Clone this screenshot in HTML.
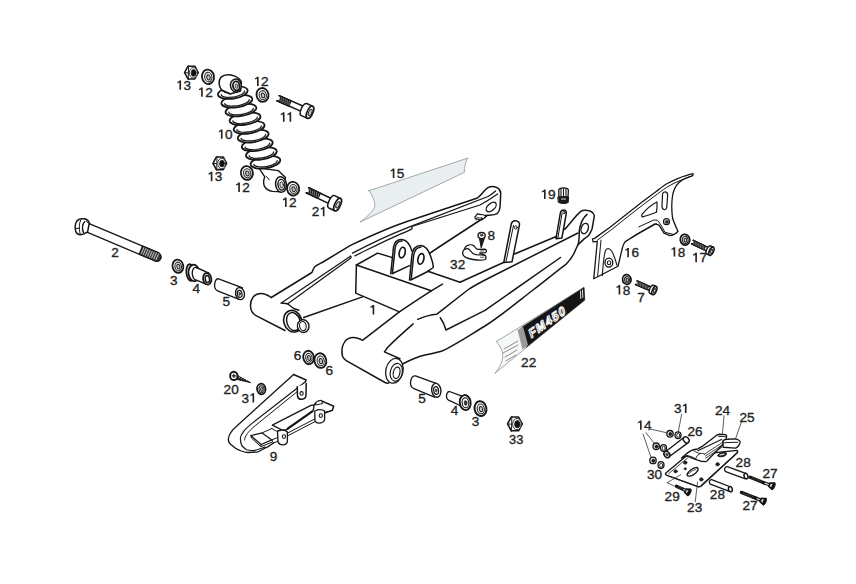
<!DOCTYPE html>
<html><head><meta charset="utf-8"><title>Swingarm parts diagram</title>
<style>
html,body{margin:0;padding:0;background:#ffffff;}
body{width:856px;height:584px;overflow:hidden;}
svg{display:block;}
text{font-family:"Liberation Sans",sans-serif;font-size:13.6px;fill:#242424;stroke:#242424;stroke-width:0.35px;}
</style></head><body>
<svg width="856" height="584" viewBox="0 0 856 584" stroke-linejoin="round" stroke-linecap="round">
<rect x="0" y="0" width="856" height="584" fill="#fff"/>
<path d="M369,190.7 L467.9,158.1 C465.5,162 464.3,167 464.3,172.4 L359.9,222.2 C368,216 373.5,211 374.6,206.5 C375.5,203 373,196 369,190.7 Z" fill="#e9eef0" stroke="#8e9494" stroke-width="0.8" />
<path d="M496.4,341.5 L584,287.4 L584.7,300.1 L494.8,373.4 Q510,356 496.4,341.5 Z" fill="#f6f7f7" stroke="#8a9296" stroke-width="0.8" />
<path d="M521.8,327.2 L584,287.4 L584.7,300.1 L526.6,347.1 Z" fill="#151515" stroke="#151515" stroke-width="0.6" />
<path d="M517.5,330 L523,326.6 L528,345 L522.5,349.5 Z" fill="#9a9a96" stroke="none" stroke-width="0" />
<text transform="translate(531 338.5) rotate(-35.5) skewX(-16)" style="font-family:'Liberation Sans',sans-serif;font-weight:bold;font-size:12px;fill:#1a1a1a;letter-spacing:1.4px;stroke:#fff;stroke-width:1.1px;stroke-linejoin:round">FM450</text>
<path d="M580.5,291 L580.8,298.5 M582.5,290 L582.8,297.5" fill="none" stroke="#fff" stroke-width="0.9" />
<path d="M504,349 L518,341 M503,353 L518,345 M505,357 L517,350 M506,361 L516,355" fill="none" stroke="#8c8c8c" stroke-width="1.0" />
<path d="M271.25,297.5 L311.9,272.5 C313,270 313.5,268 315,266.5 C317,264.8 320,263.6 323,262 L350,245.6 C365,238.5 385,229 407,221.5 L477.5,198 C481,195.5 484,190.5 487.5,187.8 C490.5,186.2 495,186 498.6,188.6 C500.5,190.5 501,193 500.6,195.5 L500,207.5 C499.6,210.5 498.6,212.3 497.1,213.6 C494.5,215 490,215.3 485.2,215.4" fill="none" stroke="#161616" stroke-width="1.5" />
<path d="M486.5,216 L437.5,248 L429.5,253.5" fill="none" stroke="#161616" stroke-width="1.5" />
<path d="M281.25,303.1 L350,256.4" fill="none" stroke="#161616" stroke-width="1.2" />
<path d="M352.5,253.1 C365,246.5 385,236.5 407,227.8 L488,196.5 C491,195 493,193.2 495.5,191" fill="none" stroke="#161616" stroke-width="1.3" />
<path d="M287.4,303.9 L349.5,259.0 Q352,257.4 350.6,256.0" fill="none" stroke="#161616" stroke-width="1.2" />
<path d="M355,255.8 C375,246 390,238 407,231.3 L411.9,228.9 L411.9,226.5 L480,205 Q490,199.5 497.5,194" fill="none" stroke="#161616" stroke-width="1.3" />
<path d="M271.25,297.5 C267,294.5 264,293.3 260,293.5 C254,294 250.5,299 250.5,305.5 C250.5,311 253,314 256,315.6 L285,330.5" fill="none" stroke="#161616" stroke-width="1.5" />
<path d="M281.25,303.1 L287.5,303.75 L293.75,308.5 L298.75,310.2" fill="none" stroke="#161616" stroke-width="1.5" />
<ellipse cx="491.2" cy="207.0" rx="6.0" ry="3.4" transform="rotate(-42 491.2 207.0)" fill="#fff" stroke="#161616" stroke-width="1.3" />
<path d="M475,217 L477.3,213.9 L483.9,215.1 L481.6,217.8 Z" fill="#fff" stroke="#161616" stroke-width="1.2" />
<path d="M475,217 L475.3,218.8 L481.8,220 L485.8,216.6 L483.9,215.1 M481.6,217.8 L481.8,220" fill="#fff" stroke="#161616" stroke-width="1.1" />
<path d="M476,220 L476.8,217.6 L483,218.4" fill="none" stroke="#161616" stroke-width="0.8" />
<ellipse cx="292.8" cy="321.2" rx="9.0" ry="11.0" transform="rotate(-18 292.8 321.2)" fill="#fff" stroke="#161616" stroke-width="1.6" />
<ellipse cx="293.4" cy="321.6" rx="6.6" ry="9.2" transform="rotate(-18 293.4 321.6)" fill="#fff" stroke="#161616" stroke-width="1.5" />
<path d="M294.8,313.3 L302.5,319.8" fill="none" stroke="#161616" stroke-width="1.2" />
<ellipse cx="303.2" cy="326.1" rx="5.8" ry="6.4" transform="rotate(-10 303.2 326.1)" fill="#fff" stroke="#161616" stroke-width="1.4" />
<ellipse cx="302.9" cy="326.1" rx="3.3" ry="4.6" transform="rotate(-10 302.9 326.1)" fill="#fff" stroke="#161616" stroke-width="1.1" />
<path d="M303.75,317.5 L362.5,296.9" fill="none" stroke="#161616" stroke-width="1.5" />
<path d="M356.4,265 L377.6,253.1 L392.5,257.6" fill="none" stroke="#161616" stroke-width="1.5" />
<path d="M356.4,265 L431.2,290.8" fill="none" stroke="#161616" stroke-width="1.5" />
<path d="M356.4,265 L355.75,293.1 L399.4,311.9" fill="none" stroke="#161616" stroke-width="1.5" />
<path d="M427.9,271.2 L460,282.3" fill="none" stroke="#161616" stroke-width="1.5" />
<path d="M390.75,273.75 L393.5,247 C394.5,241.5 398,239.2 402,239.4 C406.5,239.8 410,244 412,251.25" fill="#fff" stroke="#161616" stroke-width="1.5" />
<path d="M392.4,273.2 L395.2,247.5 C396,243.2 398.8,241 402,241" fill="none" stroke="#161616" stroke-width="1.5" />
<path d="M392,273.75 L409.5,265.6" fill="none" stroke="#161616" stroke-width="1.5" />
<ellipse cx="402.2" cy="252.6" rx="2.9" ry="5.4" transform="rotate(12 402.2 252.6)" fill="#fff" stroke="#161616" stroke-width="1.7" />
<path d="M409.5,280 L411.8,256 C412.6,249.5 416,245.6 420.75,245.6 C425.5,246 428.5,250.5 430.3,255.5 C432,260 433.5,264 433.25,267.5 L428,271.2" fill="#fff" stroke="#161616" stroke-width="1.5" />
<path d="M411.2,279.5 L413.5,256.5 C414.2,250.5 417,247.3 420.75,247.2" fill="none" stroke="#161616" stroke-width="1.5" />
<path d="M410.75,280 L428.25,271.25" fill="none" stroke="#161616" stroke-width="1.5" />
<ellipse cx="420.9" cy="258.9" rx="2.9" ry="5.4" transform="rotate(12 420.9 258.9)" fill="#fff" stroke="#161616" stroke-width="1.7" />
<path d="M429.5,253.5 L437.5,248" fill="none" stroke="#161616" stroke-width="1.5" />
<path d="M442.5,284.2 L431.2,290.8 C420,298 410,304.5 399.4,311.9 L362.5,340.3 C359,338.5 357,337.5 353.75,337.5 C349,337.5 346,339 344,343 C342,346.5 341.5,352 342.5,356.25 C343.5,358.5 344.5,359.6 346.25,360.6 L385,382.5 C386.5,383.2 387.5,383.3 388.75,383.1" fill="none" stroke="#161616" stroke-width="1.5" />
<ellipse cx="394.4" cy="370.8" rx="8.6" ry="12.5" transform="rotate(12 394.4 370.8)" fill="#fff" stroke="#161616" stroke-width="1.3" />
<ellipse cx="396.3" cy="372.3" rx="6.0" ry="9.0" transform="rotate(12 396.3 372.3)" fill="#fff" stroke="#161616" stroke-width="1.2" />
<ellipse cx="396.6" cy="372.8" rx="3.3" ry="5.8" transform="rotate(12 396.6 372.8)" fill="#fff" stroke="#161616" stroke-width="1.2" />
<path d="M413.2,323.9 C405,331 395,340 388,347 L384.4,351.9 L400,358.75" fill="none" stroke="#161616" stroke-width="1.5" />
<path d="M417.7,319.4 Q428,315 436.6,314.3 L467.7,290 C475,285 482,281.5 490,277.5 L578,233" fill="none" stroke="#161616" stroke-width="1.5" />
<path d="M440.3,317.8 Q444,323 446,330 C460,323 472,317 485,310.3 L560.5,257.5" fill="none" stroke="#161616" stroke-width="1.5" />
<path d="M403.1,363.75 C412,359 418,356.5 425,355 C432,353.5 437,352.5 442,351 C455,345 470,335 485,326 C500,316.5 515,304 533,290 C545,281 558,270 566.5,263.8 C571,259 574,254 575.5,250 L578,244.5" fill="none" stroke="#161616" stroke-width="1.5" />
<path d="M460,282.3 L504,262.3" fill="none" stroke="#161616" stroke-width="1.5" />
<path d="M514.5,254 L556.2,236.5" fill="none" stroke="#161616" stroke-width="1.5" />
<path d="M564.6,229.4 C570,224 575,216 580.8,211.3 C582.5,210.2 584.5,210 586,210.3 C589,210.6 591.8,211.6 593.2,213.4 C594.3,214.8 594.4,215.8 594.2,216.6 L592.1,228.8 C591,231.5 590,233.5 589,235 C587,237 585.5,238 583.9,239.1 L578.3,244.4" fill="none" stroke="#161616" stroke-width="1.5" />
<path d="M587,214.4 C583.5,217.5 581,222 579.8,227.7 C579.3,230 579.2,232 579.3,233.9 C579.2,237.5 578.8,241 578.3,244.4" fill="none" stroke="#161616" stroke-width="1.5" />
<ellipse cx="584.7" cy="228.5" rx="3.5" ry="5.3" transform="rotate(20 584.7 228.5)" fill="#fff" stroke="#161616" stroke-width="1.4" />
<path d="M503.8,262.5 L511.3,223.8 C512,221.5 514,220.6 515.7,220.8 C518,221 519.8,222.5 519.5,224.6 L512,261.8 Z" fill="#fff" stroke="#161616" stroke-width="1.5" />
<path d="M506,261.8 L513.5,225.3" fill="none" stroke="#161616" stroke-width="1.0" />
<ellipse cx="515.8" cy="227.5" rx="1.4" ry="1.6" fill="#fff" stroke="#161616" stroke-width="1.0" />
<path d="M556,238.7 L560.4,212.7 C561,210.8 562.5,210 564.1,210.1 C565.8,210.3 566.6,211.6 566.3,213.4 L561.9,238 Z" fill="#fff" stroke="#161616" stroke-width="1.5" />
<path d="M557.8,238.5 L562,213.5" fill="none" stroke="#161616" stroke-width="1.0" />
<ellipse cx="564" cy="212.5" rx="1.2" ry="1.3" fill="#fff" stroke="#161616" stroke-width="0.9" />
<path d="M594.6,238.4 L610,227.2 L626.2,214.4 L642.4,201.8 L656.2,191.4 C661,187.8 664,185.4 667.8,183.3 C671,181.5 673.5,180.2 677,178.8 C683,176.4 688,174.6 693,173.6 C693.2,174.6 692.9,175.4 692.3,175.8 C686,177.6 681.5,180 678.75,182.8 C675,186.5 673.3,191 672.5,196 C671.5,203 671.5,210 672.5,217.5 C673.5,222 675.5,226 678,231.25 C676,233.5 673,235.5 670,235.6 L664,233.1 L659,225.2 L655,223.9 L637.5,233.75 L625,241.9 C623.5,244 622.8,246 622.5,247.5 L618,266.25 L593.75,278.75 L597.3,241.4 L593.1,241.9 L592.5,238.9 Z" fill="#fff" stroke="#161616" stroke-width="1.3" />
<path d="M597.4,240.2 L611.5,229.6 L627.6,216.8 L643.8,204.2 L657.6,193.8 C662,190.4 665.5,188 669,186 C672.5,184 675.5,182.4 679,181 C684,179 688,177.2 692.3,175.8" fill="none" stroke="#161616" stroke-width="1.0" />
<path d="M601,240.2 L597.6,276.3" fill="none" stroke="#161616" stroke-width="1.0" />
<path d="M602.3,275.6 C603,265 603.8,255 605.6,250.2 C607.5,247.6 610.3,248.5 611.8,251.2 C613.8,255 615.6,260 617,265.3" fill="none" stroke="#161616" stroke-width="1.1" />
<ellipse cx="608.9" cy="262.6" rx="3.9" ry="4.5" fill="#fff" stroke="#161616" stroke-width="1.3" />
<ellipse cx="609.1" cy="262.8" rx="1.7" ry="2.0" fill="#fff" stroke="#161616" stroke-width="1.1" />
<path d="M638.75,226.9 L653.75,220 L657.5,220.3 L660.3,224 L665,232.3 L672.5,234.2" fill="none" stroke="#161616" stroke-width="1.0" />
<path d="M631.25,238 L656.25,223.75" fill="none" stroke="#161616" stroke-width="1.0" />
<path d="M662.5,194.5 C662.8,192.3 664.5,191.6 665.9,192.1 C667.3,192.6 667.8,194 667.6,196 L666.8,207 C666.6,209 665.3,209.8 664,209.5 C662.6,209.2 662,208 662,206 Z" fill="none" stroke="#161616" stroke-width="1.2" />
<path d="M656.9,202 C657.3,205 657,209 656.4,212.3 C652,214 647,215.8 642.7,216.9 C641.7,216.7 641.4,215.5 642,214.4 C646,209.5 651,205 656.9,202 Z" fill="none" stroke="#161616" stroke-width="1.2" />
<ellipse cx="666.5" cy="221.7" rx="3.0" ry="3.0" fill="#fff" stroke="#161616" stroke-width="1.2" />
<ellipse cx="666.7" cy="221.9" rx="1.6" ry="1.6" fill="#333" stroke="#161616" stroke-width="0.5" />
<ellipse cx="685.0" cy="239.7" rx="4.7" ry="5.4" transform="rotate(-10 685.0 239.7)" fill="#fff" stroke="#161616" stroke-width="1.8" />
<ellipse cx="685.3" cy="240.0" rx="2.82" ry="3.5640000000000005" transform="rotate(-10 685.3 240.0)" fill="#f2f2f2" stroke="#2a2a2a" stroke-width="1.1" />
<ellipse cx="685.5" cy="240.2" rx="1.3160000000000003" ry="1.944" transform="rotate(-10 685.5 240.2)" fill="#c4c4c4" stroke="#222" stroke-width="1.0" />
<path d="M691.62,243.77 L707.87,251.61 L709.52,248.19 L693.27,240.35 A1.90,1.90 0 0 1 691.62,243.77 Z" fill="#fff" stroke="#161616" stroke-width="1.5"/>
<path d="M691.62,243.77 L703.69,249.59 L705.34,246.17 L693.27,240.35 A1.90,1.90 0 0 1 691.62,243.77 Z" fill="#1e1e1e" stroke="#161616" stroke-width="1.5"/>
<path d="M693.48,244.04 L693.56,241.12 M695.20,244.87 L695.27,241.95 M696.91,245.69 L696.98,242.77 M698.62,246.52 L698.69,243.60 M700.33,247.34 L700.40,244.42 M702.04,248.17 L702.12,245.25 M703.75,248.99 L703.83,246.07" stroke="#9a9a9a" stroke-width="0.7" fill="none"/>
<path d="M706.79,253.86 L709.49,255.16 L713.31,247.24 L710.61,245.93 A2.02,4.40 25.7 0 0 706.79,253.86 Z" fill="#fff" stroke="#161616" stroke-width="1.5" stroke-linejoin="round"/>
<ellipse cx="711.40" cy="251.20" rx="2.02" ry="4.40" transform="rotate(25.7 711.40 251.20)" fill="#fff" stroke="#161616" stroke-width="1.6"/>
<ellipse cx="711.67" cy="251.33" rx="1.11" ry="2.20" transform="rotate(25.7 711.40 251.20)" fill="#d0d0d0" stroke="#222" stroke-width="1.0"/>
<ellipse cx="626.8" cy="279.5" rx="4.2" ry="4.9" transform="rotate(-10 626.8 279.5)" fill="#fff" stroke="#161616" stroke-width="1.8" />
<ellipse cx="627.0999999999999" cy="279.8" rx="2.52" ry="3.2340000000000004" transform="rotate(-10 627.0999999999999 279.8)" fill="#f2f2f2" stroke="#2a2a2a" stroke-width="1.1" />
<ellipse cx="627.3" cy="280.0" rx="1.1760000000000002" ry="1.764" transform="rotate(-10 627.3 280.0)" fill="#c4c4c4" stroke="#222" stroke-width="1.0" />
<path d="M635.60,284.48 L650.89,291.06 L652.39,287.57 L637.10,280.99 A1.90,1.90 0 0 1 635.60,284.48 Z" fill="#fff" stroke="#161616" stroke-width="1.5"/>
<path d="M635.60,284.48 L646.99,289.38 L648.49,285.89 L637.10,280.99 A1.90,1.90 0 0 1 635.60,284.48 Z" fill="#1e1e1e" stroke="#161616" stroke-width="1.5"/>
<path d="M637.48,284.67 L637.43,281.75 M639.07,285.35 L639.02,282.44 M640.66,286.04 L640.61,283.12 M642.26,286.72 L642.20,283.81 M643.85,287.41 L643.80,284.49 M645.44,288.09 L645.39,285.18 M647.03,288.78 L646.98,285.86" stroke="#9a9a9a" stroke-width="0.7" fill="none"/>
<path d="M649.91,293.36 L652.66,294.54 L656.14,286.46 L653.38,285.27 A2.02,4.40 23.3 0 0 649.91,293.36 Z" fill="#fff" stroke="#161616" stroke-width="1.5" stroke-linejoin="round"/>
<ellipse cx="654.40" cy="290.50" rx="2.02" ry="4.40" transform="rotate(23.3 654.40 290.50)" fill="#fff" stroke="#161616" stroke-width="1.6"/>
<ellipse cx="654.68" cy="290.62" rx="1.11" ry="2.20" transform="rotate(23.3 654.40 290.50)" fill="#d0d0d0" stroke="#222" stroke-width="1.0"/>
<ellipse cx="262.5" cy="94.9" rx="6.0" ry="6.9" transform="rotate(-10 262.5 94.9)" fill="#fff" stroke="#161616" stroke-width="1.8" />
<ellipse cx="262.8" cy="95.2" rx="3.5999999999999996" ry="4.554" transform="rotate(-10 262.8 95.2)" fill="#f2f2f2" stroke="#2a2a2a" stroke-width="1.1" />
<ellipse cx="263.0" cy="95.4" rx="1.6800000000000002" ry="2.484" transform="rotate(-10 263.0 95.4)" fill="#c4c4c4" stroke="#222" stroke-width="1.0" />
<path d="M276.93,100.81 L302.92,112.16 L305.16,107.03 L279.17,95.67 A2.80,2.80 0 0 1 276.93,100.81 Z" fill="#fff" stroke="#161616" stroke-width="1.5"/>
<path d="M276.93,100.81 L288.75,105.97 L290.99,100.84 L279.17,95.67 A2.80,2.80 0 0 1 276.93,100.81 Z" fill="#1e1e1e" stroke="#161616" stroke-width="1.5"/>
<path d="M278.91,100.76 L279.38,96.68 M280.91,101.63 L281.38,97.56 M282.91,102.50 L283.38,98.43 M284.91,103.38 L285.38,99.30 M286.91,104.25 L287.37,100.18 M288.90,105.12 L289.37,101.05" stroke="#9a9a9a" stroke-width="0.7" fill="none"/>
<path d="M301.40,115.65 L307.36,118.25 L312.64,106.15 L306.69,103.55 A2.88,6.60 23.6 0 0 301.40,115.65 Z" fill="#fff" stroke="#161616" stroke-width="1.5" stroke-linejoin="round"/>
<ellipse cx="310.00" cy="112.20" rx="2.88" ry="6.60" transform="rotate(23.6 310.00 112.20)" fill="#fff" stroke="#161616" stroke-width="1.6"/>
<ellipse cx="310.27" cy="112.32" rx="1.58" ry="3.30" transform="rotate(23.6 310.00 112.20)" fill="#d0d0d0" stroke="#222" stroke-width="1.0"/>
<ellipse cx="293.1" cy="188.7" rx="6.0" ry="6.9" transform="rotate(-10 293.1 188.7)" fill="#fff" stroke="#161616" stroke-width="1.8" />
<ellipse cx="293.40000000000003" cy="189.0" rx="3.5999999999999996" ry="4.554" transform="rotate(-10 293.40000000000003 189.0)" fill="#f2f2f2" stroke="#2a2a2a" stroke-width="1.1" />
<ellipse cx="293.6" cy="189.2" rx="1.6800000000000002" ry="2.484" transform="rotate(-10 293.6 189.2)" fill="#c4c4c4" stroke="#222" stroke-width="1.0" />
<path d="M306.24,192.79 L330.53,204.34 L332.93,199.28 L308.64,187.73 A2.80,2.80 0 0 1 306.24,192.79 Z" fill="#fff" stroke="#161616" stroke-width="1.5"/>
<path d="M306.24,192.79 L317.89,198.33 L320.29,193.27 L308.64,187.73 A2.80,2.80 0 0 1 306.24,192.79 Z" fill="#1e1e1e" stroke="#161616" stroke-width="1.5"/>
<path d="M308.23,192.80 L308.83,188.75 M310.19,193.74 L310.79,189.68 M312.16,194.67 L312.76,190.62 M314.13,195.61 L314.73,191.55 M316.10,196.55 L316.70,192.49 M318.07,197.48 L318.67,193.43" stroke="#9a9a9a" stroke-width="0.7" fill="none"/>
<path d="M328.81,207.95 L334.68,210.74 L340.52,198.46 L334.65,195.67 A2.88,6.80 25.4 0 0 328.81,207.95 Z" fill="#fff" stroke="#161616" stroke-width="1.5" stroke-linejoin="round"/>
<ellipse cx="337.60" cy="204.60" rx="2.88" ry="6.80" transform="rotate(25.4 337.60 204.60)" fill="#fff" stroke="#161616" stroke-width="1.6"/>
<ellipse cx="337.87" cy="204.73" rx="1.58" ry="3.40" transform="rotate(25.4 337.60 204.60)" fill="#d0d0d0" stroke="#222" stroke-width="1.0"/>
<polygon points="198.22,72.60 194.81,78.96 187.99,78.96 184.58,72.60 187.99,66.24 194.81,66.24" fill="#fff" stroke="#161616" stroke-width="1.6" stroke-linejoin="round"/>
<path d="M188.59,65.62 L188.29,79.58 M185.08,72.60 L187.99,72.90" stroke="#222" stroke-width="1.0" fill="none"/>
<ellipse cx="193.35" cy="72.8" rx="4.03" ry="5.2" fill="#fff" stroke="#333" stroke-width="1.0" />
<ellipse cx="193.61" cy="72.89999999999999" rx="2.47" ry="3.38" fill="#111" stroke="#111" stroke-width="0.6" />
<ellipse cx="208.0" cy="76.8" rx="6.0" ry="7.3" transform="rotate(-10 208.0 76.8)" fill="#fff" stroke="#161616" stroke-width="1.8" />
<ellipse cx="208.3" cy="77.1" rx="3.5999999999999996" ry="4.8180000000000005" transform="rotate(-10 208.3 77.1)" fill="#f2f2f2" stroke="#2a2a2a" stroke-width="1.1" />
<ellipse cx="208.5" cy="77.3" rx="1.6800000000000002" ry="2.6279999999999997" transform="rotate(-10 208.5 77.3)" fill="#c4c4c4" stroke="#222" stroke-width="1.0" />
<polygon points="226.62,163.30 223.21,169.66 216.39,169.66 212.98,163.30 216.39,156.94 223.21,156.94" fill="#fff" stroke="#161616" stroke-width="1.6" stroke-linejoin="round"/>
<path d="M216.99,156.32 L216.69,170.28 M213.48,163.30 L216.39,163.60" stroke="#222" stroke-width="1.0" fill="none"/>
<ellipse cx="221.75" cy="163.5" rx="4.03" ry="5.2" fill="#fff" stroke="#333" stroke-width="1.0" />
<ellipse cx="222.01000000000002" cy="163.60000000000002" rx="2.47" ry="3.38" fill="#111" stroke="#111" stroke-width="0.6" />
<ellipse cx="246.9" cy="173.0" rx="6.0" ry="6.9" transform="rotate(-10 246.9 173.0)" fill="#fff" stroke="#161616" stroke-width="1.8" />
<ellipse cx="247.20000000000002" cy="173.3" rx="3.5999999999999996" ry="4.554" transform="rotate(-10 247.20000000000002 173.3)" fill="#f2f2f2" stroke="#2a2a2a" stroke-width="1.1" />
<ellipse cx="247.4" cy="173.5" rx="1.6800000000000002" ry="2.484" transform="rotate(-10 247.4 173.5)" fill="#c4c4c4" stroke="#222" stroke-width="1.0" />
<ellipse cx="308.6" cy="357.5" rx="5.3" ry="6.8" transform="rotate(-10 308.6 357.5)" fill="#fff" stroke="#161616" stroke-width="1.8" />
<ellipse cx="308.90000000000003" cy="357.8" rx="3.1799999999999997" ry="4.488" transform="rotate(-10 308.90000000000003 357.8)" fill="#f2f2f2" stroke="#2a2a2a" stroke-width="1.1" />
<ellipse cx="309.1" cy="358.0" rx="1.484" ry="2.448" transform="rotate(-10 309.1 358.0)" fill="#c4c4c4" stroke="#222" stroke-width="1.0" />
<ellipse cx="320.4" cy="360.6" rx="5.9" ry="7.4" transform="rotate(-10 320.4 360.6)" fill="#fff" stroke="#161616" stroke-width="1.8" />
<ellipse cx="320.7" cy="360.90000000000003" rx="3.54" ry="4.884" transform="rotate(-10 320.7 360.90000000000003)" fill="#f2f2f2" stroke="#2a2a2a" stroke-width="1.1" />
<ellipse cx="320.9" cy="361.1" rx="1.6520000000000004" ry="2.664" transform="rotate(-10 320.9 361.1)" fill="#c4c4c4" stroke="#222" stroke-width="1.0" />
<ellipse cx="261.3" cy="389.0" rx="4.2" ry="5.3" transform="rotate(-10 261.3 389.0)" fill="#fff" stroke="#161616" stroke-width="1.8" />
<ellipse cx="261.6" cy="389.3" rx="2.52" ry="3.498" transform="rotate(-10 261.6 389.3)" fill="#f2f2f2" stroke="#2a2a2a" stroke-width="1.1" />
<ellipse cx="261.8" cy="389.5" rx="1.1760000000000002" ry="1.908" transform="rotate(-10 261.8 389.5)" fill="#c4c4c4" stroke="#222" stroke-width="1.0" />
<path d="M236.5,374.8 L250.5,382.6 L235.2,379.0 Z" fill="#222" stroke="#161616" stroke-width="1.0" />
<path d="M239,377.5 L240.5,376.4 M241.5,378.3 L243,377.2 M244,379 L245.4,378 M246.5,380 L247.7,379.1" fill="none" stroke="#fff" stroke-width="0.8" />
<ellipse cx="233.8" cy="375.9" rx="3.7" ry="4.1" fill="#fff" stroke="#161616" stroke-width="1.9" />
<path d="M232.2,375.9 L235.6,375.9 M233.9,374.2 L233.9,377.6" fill="none" stroke="#161616" stroke-width="1.2" />
<polygon points="522.25,423.90 518.57,430.75 511.22,430.75 507.55,423.90 511.22,417.05 518.57,417.05" fill="#fff" stroke="#161616" stroke-width="1.6" stroke-linejoin="round"/>
<path d="M511.82,416.39 L511.52,431.41 M508.05,423.90 L511.22,424.20" stroke="#222" stroke-width="1.0" fill="none"/>
<ellipse cx="517.0" cy="424.09999999999997" rx="4.34" ry="5.6000000000000005" fill="#fff" stroke="#333" stroke-width="1.0" />
<ellipse cx="517.28" cy="424.2" rx="2.66" ry="3.64" fill="#111" stroke="#111" stroke-width="0.6" />
<path d="M479.5,238.5 L481.2,247.8 L484.2,238.8 Z" fill="#1a1a1a" stroke="#161616" stroke-width="1.0" />
<ellipse cx="481.6" cy="235.6" rx="3.6" ry="3.1" fill="#fff" stroke="#161616" stroke-width="1.4" />
<ellipse cx="481.6" cy="235.2" rx="1.5" ry="1.0" fill="#444" stroke="#161616" stroke-width="0.5" />
<path d="M466,246.5 C468,244.8 471.5,244.2 474,245.9 C475.5,247 475.5,248.8 477.5,249.4 L485,249.2 C486.6,249.6 486.8,251.6 485.4,252.6 L479.6,253 L484.5,255.2 C486.3,255.6 486.5,258.5 485.2,259.5 C483,260.3 480,260.3 477,260 C473,259.6 468,258.8 464.5,256.6 C462.2,254.8 462,251.2 464.2,249.5 C464.8,248 465.2,247.2 466,246.5 Z" fill="#fff" stroke="#161616" stroke-width="1.3" />
<path d="M464.8,249.4 C466.8,248.2 469,248.6 470.2,250.5 C471.4,252.6 473,254 475.8,254.6 L484.5,255.2" fill="none" stroke="#161616" stroke-width="1.3" />
<path d="M480.5,251 L484,250.8 M480.5,257.3 L484,257.2" fill="none" stroke="#555" stroke-width="1.0" />
<path d="M558.8,190 C559,188.6 560.5,187.8 563.5,187.8 C566.5,187.8 568.2,188.6 568.4,190 L568,197 L558.9,197 Z" fill="#fff" stroke="#161616" stroke-width="1.3" />
<path d="M561,189 L561,196.5 M563.5,188.5 L563.5,196.5 M566,189 L566,196.5" fill="none" stroke="#161616" stroke-width="1.1" />
<path d="M558.2,197 L568.6,197 L568.2,202.5 C566,203.8 561,203.8 558.6,202.5 Z" fill="#1a1a1a" stroke="#161616" stroke-width="1.0" />
<path d="M561.5,199 L565.5,199" fill="none" stroke="#fff" stroke-width="0.9" />
<path d="M89.2,223.6 L157.5,252.4 C160.5,253.6 161.5,256.5 160.6,258.8 C159.6,261 157.5,261.8 155.2,261 L87.5,232.4" fill="#fff" stroke="#161616" stroke-width="1.3" />
<path d="M142.5,246.07 L157.5,252.4 C160.5,253.6 161.5,256.5 160.6,258.8 C159.6,261 157.5,261.8 155.2,261 L139.2,254.24 Z" fill="#3a3a3a" stroke="#161616" stroke-width="1.2" />
<path d="M143.80,247.70 L141.20,253.50 M145.90,248.58 L143.30,254.38 M148.00,249.47 L145.40,255.27 M150.10,250.35 L147.50,256.15 M152.20,251.24 L149.60,257.04 M154.30,252.12 L151.70,257.92 M156.40,253.01 L153.80,258.81 M158.50,253.90 L155.90,259.70" fill="none" stroke="#d8d8d8" stroke-width="0.9" />
<path d="M89.6,224 C89,221 87,219.2 84,218.8 C81,218.4 78,219.2 76.5,221.5 C75.2,224 75,228 75.6,231 C76.3,233.5 78.5,234.8 81.5,234.6 C83.5,234.5 85,233.8 86,232.6 L87.5,232.4 L89.2,223.6 Z" fill="#fff" stroke="#161616" stroke-width="1.5" />
<path d="M84.6,221.6 C82.6,224 82,228.5 83.4,232.6" fill="none" stroke="#161616" stroke-width="1.4" />
<path d="M80.6,220.2 C79.2,223 78.8,228 80,233.6" fill="none" stroke="#161616" stroke-width="1.0" />
<path d="M75.6,228.4 L79,228.4" fill="none" stroke="#161616" stroke-width="1.0" />
<path d="M86.5,221.5 L89,223.5" fill="none" stroke="#161616" stroke-width="1.0" />
<ellipse cx="177.9" cy="266.2" rx="5.4" ry="6.7" transform="rotate(-10 177.9 266.2)" fill="#fff" stroke="#161616" stroke-width="1.8" />
<ellipse cx="178.20000000000002" cy="266.5" rx="3.24" ry="4.422000000000001" transform="rotate(-10 178.20000000000002 266.5)" fill="#f2f2f2" stroke="#2a2a2a" stroke-width="1.1" />
<ellipse cx="178.4" cy="266.7" rx="1.5120000000000002" ry="2.412" transform="rotate(-10 178.4 266.7)" fill="#c4c4c4" stroke="#222" stroke-width="1.0" />
<ellipse cx="190.4" cy="272.6" rx="4.0" ry="8.4" transform="rotate(-6 190.4 272.6)" fill="#fff" stroke="#161616" stroke-width="1.8" />
<ellipse cx="194.0" cy="273.0" rx="5.5" ry="8.3" transform="rotate(-6 194.0 273.0)" fill="#fff" stroke="#161616" stroke-width="1.8" />
<ellipse cx="196.0" cy="273.8" rx="3.7" ry="6.4" transform="rotate(-6 196.0 273.8)" fill="#fff" stroke="#161616" stroke-width="1.3" />
<path d="M196.3,267.5 L208.9,273.2 L206,284.2 L196.4,280.2 Z" fill="#fff" stroke="#161616" stroke-width="0" />
<path d="M196.3,267.5 L208.9,273.2 M196.4,280.2 L206,284.2" fill="none" stroke="#161616" stroke-width="1.4" />
<ellipse cx="207.2" cy="278.8" rx="4.1" ry="5.8" transform="rotate(-10 207.2 278.8)" fill="#fff" stroke="#161616" stroke-width="1.8" />
<ellipse cx="207.4" cy="279.0" rx="2.1" ry="3.6" transform="rotate(-10 207.4 279.0)" fill="#fff" stroke="#161616" stroke-width="1.5" />
<path d="M218.6,278.8 L242.5,287.8 L238.5,299.2 L217.6,290.8 C214.8,289.8 214,286 214.8,283 C215.5,280 216.8,278.5 218.6,278.8 Z" fill="#fff" stroke="#161616" stroke-width="1.3" />
<ellipse cx="240.0" cy="293.6" rx="4.4" ry="6.1" transform="rotate(-12 240.0 293.6)" fill="#fff" stroke="#161616" stroke-width="1.4" />
<ellipse cx="239.7" cy="293.8" rx="2.3" ry="3.5" transform="rotate(-12 239.7 293.8)" fill="#fff" stroke="#161616" stroke-width="1.2" />
<ellipse cx="239.7" cy="293.8" rx="0.8" ry="1.6" transform="rotate(-12 239.7 293.8)" fill="#555" stroke="#161616" stroke-width="0.5" />
<path d="M415.5,375.8 L436.8,383.6 L434.5,397.2 L413.9,388.6 C411,387.5 410,384 410.8,380.5 C411.5,377.5 413.2,375.6 415.5,375.8 Z" fill="#fff" stroke="#161616" stroke-width="1.3" />
<ellipse cx="436.3" cy="390.3" rx="4.6" ry="7.0" transform="rotate(-8 436.3 390.3)" fill="#fff" stroke="#161616" stroke-width="1.4" />
<ellipse cx="436.1" cy="390.5" rx="2.4" ry="3.9" transform="rotate(-8 436.1 390.5)" fill="#fff" stroke="#161616" stroke-width="1.2" />
<ellipse cx="436.1" cy="390.5" rx="0.8" ry="1.7" transform="rotate(-8 436.1 390.5)" fill="#555" stroke="#161616" stroke-width="0.5" />
<path d="M449.4,391.5 L462,396.2 L461,406 L448.6,400.2 C446.6,399 446.2,396.2 446.8,394 C447.4,392.3 448.3,391.4 449.4,391.5 Z" fill="#fff" stroke="#161616" stroke-width="1.3" />
<ellipse cx="465.2" cy="402.6" rx="5.4" ry="7.6" transform="rotate(-8 465.2 402.6)" fill="#fff" stroke="#161616" stroke-width="1.9" />
<ellipse cx="465.4" cy="402.8" rx="3.3" ry="5.0" transform="rotate(-8 465.4 402.8)" fill="#fff" stroke="#161616" stroke-width="1.1" />
<ellipse cx="465.6" cy="403.0" rx="1.4" ry="2.6" transform="rotate(-8 465.6 403.0)" fill="#333" stroke="#161616" stroke-width="0.5" />
<ellipse cx="480.5" cy="408.6" rx="5.9" ry="7.5" transform="rotate(-10 480.5 408.6)" fill="#fff" stroke="#161616" stroke-width="2.0" />
<ellipse cx="480.8" cy="408.90000000000003" rx="3.54" ry="4.95" transform="rotate(-10 480.8 408.90000000000003)" fill="#f2f2f2" stroke="#2a2a2a" stroke-width="1.1" />
<ellipse cx="481.0" cy="409.1" rx="1.6520000000000004" ry="2.6999999999999997" transform="rotate(-10 481.0 409.1)" fill="#c4c4c4" stroke="#222" stroke-width="1.0" />
<path d="M293.6,374.5 L236.8,425.9 C232,430 229,434 228.4,438.5 C228,442 229,443.5 231.2,444.8 C234,447.5 236,449 239.6,450.4 C243,451.7 245,452.5 248,452.5 C251,452.5 254,452.3 257.9,451.8 C261,450.5 264,448.5 267.7,446.9 L274,442.7" fill="none" stroke="#161616" stroke-width="1.3" />
<path d="M293.6,374.5 L306.2,380 L305.4,381.8" fill="none" stroke="#161616" stroke-width="1.5" />
<path d="M305.4,381.8 L252.3,423.1 C247,427.5 244,430 243.2,432.2 C241,435 240.3,437 240.4,438.5 C240.5,442 241,444 241.8,445.5 C243.5,447.5 245,449 246.7,449.7 C249,450.5 251.5,450.6 254.4,450.4 C258,449.8 261,448.5 264.9,446.9" fill="none" stroke="#161616" stroke-width="1.2" />
<path d="M306,384.5 L255.8,425.2 C250,430 247.5,433 246,435.7 C245,437.5 244.5,439 244.6,440" fill="none" stroke="#161616" stroke-width="1.0" />
<path d="M297.2,386.8 L297.5,396 C298,398.5 300,399.5 302,399.3 C304.5,399 306,397.5 306,395 L306.2,383.5" fill="#fff" stroke="#161616" stroke-width="1.5" />
<ellipse cx="301.6" cy="393.4" rx="1.6" ry="1.8" fill="#fff" stroke="#161616" stroke-width="1.1" />
<path d="M313.5,405.5 C315,403.5 316.5,402.2 318.2,401.3 L321,400.6 L333.7,406.2 L332.3,410.4 L323.9,413.2" fill="none" stroke="#161616" stroke-width="1.5" />
<path d="M315.6,404.6 L316.4,401.6 L321.2,400.4 L322.6,403.2 Z" fill="#fff" stroke="#161616" stroke-width="1.0" />
<path d="M272.3,425.2 L310.9,405.4 C312.5,404.8 313.8,405.2 313.9,406.4 C313.8,408.5 313.2,410 312.8,411.5 L286.4,429.9 L281.7,429.9 Z" fill="#fff" stroke="#161616" stroke-width="1.3" />
<path d="M287.6,428.6 L312.2,411.2" fill="none" stroke="#161616" stroke-width="1.9" />
<path d="M287.4,433.2 L315.4,418.6 M287.4,436.0 L315.4,421.4" fill="none" stroke="#161616" stroke-width="1.0" />
<path d="M277.5,431 L278,442 C279,444.5 281,445 283.5,444.8 C286,444.4 287.4,443 287.4,441 L287.4,432 C286,430.5 284,430 281.5,430.2 Z" fill="#fff" stroke="#161616" stroke-width="1.3" />
<ellipse cx="283.9" cy="436.6" rx="1.6" ry="1.9" fill="#fff" stroke="#161616" stroke-width="1.1" />
<path d="M314.7,411 L315,421 C316,423 318,423.3 320,423.1 C323,422.5 324.6,421 324.6,419 L324.6,411 C323,409.5 321,409.4 318.5,409.6 Z" fill="#fff" stroke="#161616" stroke-width="1.3" />
<ellipse cx="320.8" cy="415.6" rx="1.6" ry="1.9" fill="#fff" stroke="#161616" stroke-width="1.1" />
<path d="M324.6,412.5 L332.3,410.4" fill="none" stroke="#161616" stroke-width="1.0" />
<path d="M250.9,435.7 L262.1,432.9 L271.9,439.9 L261,444.5 Z" fill="#fff" stroke="#161616" stroke-width="1.2" />
<path d="M250.9,435.7 L251.6,438.2 L260.8,446.6 L261,444.5 M260.8,446.6 L272.6,442 L271.9,439.9" fill="none" stroke="#161616" stroke-width="1.0" />
<path d="M271.9,439.9 L277.6,437.6 M273,443 L278.2,441.2" fill="none" stroke="#161616" stroke-width="1.0" />
<path d="M262.1,432.9 L271.9,428.5 M271.9,428.5 L276.5,431.2" fill="none" stroke="#161616" stroke-width="1.0" />
<path d="M259,168 C261,171.5 263.5,174.5 264.8,177 C263.5,179.5 263.2,183 264.4,186.2 C266,189.2 269,190.9 272.6,191.4 L281,191.8 L285.5,177.5 C283,175 280.5,173 278.2,170.6 Z" fill="#fff" stroke="#161616" stroke-width="1.4" />
<path d="M266.2,176.4 C267.4,177.4 268.5,178.6 269.3,179.9" fill="none" stroke="#161616" stroke-width="1.0" />
<ellipse cx="281.0" cy="184.4" rx="5.4" ry="7.8" transform="rotate(-8 281.0 184.4)" fill="#fff" stroke="#161616" stroke-width="1.5" />
<ellipse cx="281.4" cy="184.7" rx="3.4" ry="5.4" transform="rotate(-8 281.4 184.7)" fill="#fff" stroke="#161616" stroke-width="1.4" />
<ellipse cx="281.6" cy="184.9" rx="1.7" ry="3.2" transform="rotate(-8 281.6 184.9)" fill="#e0e0e0" stroke="#161616" stroke-width="0.8" />
<g transform="translate(265.44 162.20) rotate(-9)"><ellipse cx="0" cy="0" rx="15.0" ry="6.0" fill="#fff" stroke="#161616" stroke-width="1.75"/><path d="M-11.80,0.3 A11.80,4.20 0 0 0 11.80,0.3" fill="none" stroke="#1c1c1c" stroke-width="1.25"/><path d="M-13.80,1.6 L-11.40,3.6 M13.80,1.6 L11.40,3.6" fill="none" stroke="#222" stroke-width="1.2"/><path d="M-5,4.1 L-1,4.5" fill="none" stroke="#444" stroke-width="0.9"/></g><g transform="translate(261.36 153.50) rotate(-9)"><ellipse cx="0" cy="0" rx="15.6" ry="6.0" fill="#fff" stroke="#161616" stroke-width="1.75"/><path d="M-12.40,0.3 A12.40,4.20 0 0 0 12.40,0.3" fill="none" stroke="#1c1c1c" stroke-width="1.25"/><path d="M-14.40,1.6 L-12.00,3.6 M14.40,1.6 L12.00,3.6" fill="none" stroke="#222" stroke-width="1.2"/><path d="M-5,4.1 L-1,4.5" fill="none" stroke="#444" stroke-width="0.9"/></g><g transform="translate(257.28 144.80) rotate(-9)"><ellipse cx="0" cy="0" rx="15.6" ry="6.0" fill="#fff" stroke="#161616" stroke-width="1.75"/><path d="M-12.40,0.3 A12.40,4.20 0 0 0 12.40,0.3" fill="none" stroke="#1c1c1c" stroke-width="1.25"/><path d="M-14.40,1.6 L-12.00,3.6 M14.40,1.6 L12.00,3.6" fill="none" stroke="#222" stroke-width="1.2"/><path d="M-5,4.1 L-1,4.5" fill="none" stroke="#444" stroke-width="0.9"/></g><g transform="translate(253.20 136.10) rotate(-9)"><ellipse cx="0" cy="0" rx="15.6" ry="6.0" fill="#fff" stroke="#161616" stroke-width="1.75"/><path d="M-12.40,0.3 A12.40,4.20 0 0 0 12.40,0.3" fill="none" stroke="#1c1c1c" stroke-width="1.25"/><path d="M-14.40,1.6 L-12.00,3.6 M14.40,1.6 L12.00,3.6" fill="none" stroke="#222" stroke-width="1.2"/><path d="M-5,4.1 L-1,4.5" fill="none" stroke="#444" stroke-width="0.9"/></g><g transform="translate(249.12 127.40) rotate(-9)"><ellipse cx="0" cy="0" rx="15.6" ry="6.0" fill="#fff" stroke="#161616" stroke-width="1.75"/><path d="M-12.40,0.3 A12.40,4.20 0 0 0 12.40,0.3" fill="none" stroke="#1c1c1c" stroke-width="1.25"/><path d="M-14.40,1.6 L-12.00,3.6 M14.40,1.6 L12.00,3.6" fill="none" stroke="#222" stroke-width="1.2"/><path d="M-5,4.1 L-1,4.5" fill="none" stroke="#444" stroke-width="0.9"/></g><g transform="translate(245.04 118.70) rotate(-9)"><ellipse cx="0" cy="0" rx="15.6" ry="6.0" fill="#fff" stroke="#161616" stroke-width="1.75"/><path d="M-12.40,0.3 A12.40,4.20 0 0 0 12.40,0.3" fill="none" stroke="#1c1c1c" stroke-width="1.25"/><path d="M-14.40,1.6 L-12.00,3.6 M14.40,1.6 L12.00,3.6" fill="none" stroke="#222" stroke-width="1.2"/><path d="M-5,4.1 L-1,4.5" fill="none" stroke="#444" stroke-width="0.9"/></g><g transform="translate(240.96 110.00) rotate(-9)"><ellipse cx="0" cy="0" rx="15.6" ry="6.0" fill="#fff" stroke="#161616" stroke-width="1.75"/><path d="M-12.40,0.3 A12.40,4.20 0 0 0 12.40,0.3" fill="none" stroke="#1c1c1c" stroke-width="1.25"/><path d="M-14.40,1.6 L-12.00,3.6 M14.40,1.6 L12.00,3.6" fill="none" stroke="#222" stroke-width="1.2"/><path d="M-5,4.1 L-1,4.5" fill="none" stroke="#444" stroke-width="0.9"/></g><g transform="translate(236.88 101.30) rotate(-9)"><ellipse cx="0" cy="0" rx="15.6" ry="6.0" fill="#fff" stroke="#161616" stroke-width="1.75"/><path d="M-12.40,0.3 A12.40,4.20 0 0 0 12.40,0.3" fill="none" stroke="#1c1c1c" stroke-width="1.25"/><path d="M-14.40,1.6 L-12.00,3.6 M14.40,1.6 L12.00,3.6" fill="none" stroke="#222" stroke-width="1.2"/><path d="M-5,4.1 L-1,4.5" fill="none" stroke="#444" stroke-width="0.9"/></g><g transform="translate(232.80 92.60) rotate(-9)"><ellipse cx="0" cy="0" rx="15.0" ry="6.0" fill="#fff" stroke="#161616" stroke-width="1.75"/><path d="M-11.80,0.3 A11.80,4.20 0 0 0 11.80,0.3" fill="none" stroke="#1c1c1c" stroke-width="1.25"/><path d="M-13.80,1.6 L-11.40,3.6 M13.80,1.6 L11.40,3.6" fill="none" stroke="#222" stroke-width="1.2"/><path d="M-5,4.1 L-1,4.5" fill="none" stroke="#444" stroke-width="0.9"/></g>
<path d="M221.6,90 C218.6,86 218.2,80.5 220.8,77.4 C224,74.4 230,74.4 234.8,76.1 C238,77.4 240.2,79.3 241.3,81.8 L240.5,91 L230,94 Z" fill="#fff" stroke="#161616" stroke-width="1.5" />
<path d="M221.6,90 C223.5,91.8 226,92.6 229,93" fill="none" stroke="#161616" stroke-width="1.1" />
<ellipse cx="235.9" cy="85.6" rx="5.4" ry="6.5" transform="rotate(-10 235.9 85.6)" fill="#fff" stroke="#161616" stroke-width="1.5" />
<ellipse cx="236.3" cy="85.9" rx="3.3" ry="4.5" transform="rotate(-10 236.3 85.9)" fill="#fff" stroke="#161616" stroke-width="1.8" />
<ellipse cx="236.5" cy="86.1" rx="1.4" ry="2.4" transform="rotate(-10 236.5 86.1)" fill="#bbb" stroke="#161616" stroke-width="0.6" />
<path d="M665.6,473.3 L686.5,455.8 L737,450.4 C737.9,450.9 737.8,452 737.1,452.9 L701,486.2 C700,486.9 699,486.9 698,486.6 L667,475.4 C665.9,475 665.3,474.2 665.6,473.3 Z" fill="#fff" stroke="#161616" stroke-width="1.4" />
<path d="M668.5,473.8 L687.5,458 M669.2,476.3 L698.5,487" fill="none" stroke="#161616" stroke-width="0.8" />
<path d="M737,452.5 L700.6,485.6" fill="none" stroke="#161616" stroke-width="0.8" />
<ellipse cx="675.6" cy="471.3" rx="1.7" ry="1.615" fill="#222" stroke="#161616" stroke-width="0.6" />
<ellipse cx="685.2" cy="462.6" rx="1.8" ry="1.71" fill="#222" stroke="#161616" stroke-width="0.6" />
<ellipse cx="685.2" cy="468.8" rx="1.1" ry="1.045" fill="#222" stroke="#161616" stroke-width="0.6" />
<ellipse cx="717.6" cy="464.3" rx="1.8" ry="1.71" fill="#222" stroke="#161616" stroke-width="0.6" />
<ellipse cx="701.3" cy="479.4" rx="1.8" ry="1.71" fill="#222" stroke="#161616" stroke-width="0.6" />
<ellipse cx="686.2" cy="462.7" rx="0.1" ry="0.095" fill="#222" stroke="#161616" stroke-width="0.6" />
<path d="M687.5,473.5 C689.5,470.5 692.5,468.3 695.5,467.6 C698,467.2 698.8,468.8 697.5,470.8 C695.5,473.8 692.5,475.6 689.5,476.1 C687.2,476.3 686.5,475 687.5,473.5 Z" fill="#fff" stroke="#161616" stroke-width="1.4" />
<path d="M688.5,474 C690.5,471.6 693,470 695.5,469.6" fill="none" stroke="#161616" stroke-width="0.8" />
<path d="M718,455 C719.5,453 722.5,452 725.5,452.4 C727,452.8 726.8,454.4 725.5,455.5 C723.5,456.8 720.5,457 718.8,456.6 C717.8,456.3 717.6,455.6 718,455 Z" fill="#222" stroke="#161616" stroke-width="1.0" />
<path d="M720,455 L724,454" fill="none" stroke="#fff" stroke-width="1.2" />
<path d="M681.5,458.1 C685,455 688,452 691.6,450.4 C694,449.4 696,449.3 697.7,448.9 C699.5,448 701.5,447 703.1,445.8 L717,435 C718,434.5 718.5,434.2 719.3,434.2 L725.5,434.6 C726.5,435 726.8,436 726.6,436.6 C726.3,438 726,438.8 725.8,439.3 L723.1,441.2 L723.1,444.3 L708.5,459.3 C707.5,460.8 706.5,461.5 705.4,461.6 L700.8,461.2 L693.9,458.9 L686.9,455.8 Z" fill="#fff" stroke="#161616" stroke-width="1.4" />
<path d="M697.8,450.8 L721.5,439.4" fill="none" stroke="#161616" stroke-width="1.1" />
<path d="M704.6,454 L722.4,442.4 M705.3,456.1 L723.1,444.4 M705.6,458.2 L721.4,447.6" fill="none" stroke="#161616" stroke-width="0.8" />
<path d="M686.5,455.6 C690,455.8 693,457 695.7,458.8 M694.3,451 C696,452 698,453.4 700.5,453.4 C702,453.3 703.5,453.5 704.6,454.2 M695.7,458.8 C696.5,456 698.5,454 700.5,453.4" fill="none" stroke="#161616" stroke-width="0.9" />
<path d="M718.5,436.4 L725.5,436.6" fill="none" stroke="#161616" stroke-width="0.9" />
<path d="M723.1,440.4 C725,439.6 726.5,439.3 727.8,439.3 L733.9,438.9 C736,438.9 737.5,439.3 738.6,440 C740,440.8 740.5,441.5 740.1,442.5 L738.6,445.8 C737.5,447 736.5,447.8 735.5,448.1 L723.1,447.3 Z" fill="#fff" stroke="#161616" stroke-width="1.4" />
<path d="M724.5,442.7 L737.8,442.2" fill="none" stroke="#161616" stroke-width="1.0" />
<path d="M665.5,451.8 L684.2,437.2 L688.2,442.6 L668.4,457.2 Z" fill="#fff" stroke="#161616" stroke-width="0" />
<path d="M665.5,451.8 L684.2,437.2 M668.4,457.2 L688.2,442.6" fill="none" stroke="#161616" stroke-width="1.4" />
<ellipse cx="686.2" cy="439.9" rx="2.6" ry="3.4" transform="rotate(-40 686.2 439.9)" fill="#fff" stroke="#161616" stroke-width="1.4" />
<ellipse cx="666.9" cy="454.5" rx="2.6" ry="3.4" transform="rotate(-40 666.9 454.5)" fill="#fff" stroke="#161616" stroke-width="1.6" />
<ellipse cx="667.0" cy="454.6" rx="1.0" ry="1.5" transform="rotate(-40 667.0 454.6)" fill="#444" stroke="#161616" stroke-width="0.5" />
<ellipse cx="670.0" cy="433.8" rx="3.2" ry="3.3" fill="#fff" stroke="#161616" stroke-width="1.3" />
<ellipse cx="670.3" cy="434.1" rx="1.7" ry="1.8" fill="#222" stroke="#161616" stroke-width="0.5" />
<ellipse cx="678.0" cy="435.2" rx="3.0" ry="3.4" fill="#fff" stroke="#161616" stroke-width="1.3" />
<ellipse cx="678.2" cy="435.4" rx="1.6" ry="2.0" fill="#fff" stroke="#161616" stroke-width="0.9" />
<ellipse cx="656.2" cy="446.3" rx="3.2" ry="3.3" fill="#fff" stroke="#161616" stroke-width="1.3" />
<ellipse cx="656.5" cy="446.6" rx="1.7" ry="1.8" fill="#222" stroke="#161616" stroke-width="0.5" />
<ellipse cx="663.5" cy="448.0" rx="3.0" ry="3.4" fill="#fff" stroke="#161616" stroke-width="1.3" />
<ellipse cx="663.7" cy="448.2" rx="1.6" ry="2.0" fill="#fff" stroke="#161616" stroke-width="0.9" />
<ellipse cx="653.0" cy="460.4" rx="3.2" ry="3.3" fill="#fff" stroke="#161616" stroke-width="1.3" />
<ellipse cx="653.3" cy="460.7" rx="1.7" ry="1.8" fill="#222" stroke="#161616" stroke-width="0.5" />
<ellipse cx="661.0" cy="465.1" rx="3.0" ry="3.4" fill="#fff" stroke="#161616" stroke-width="1.3" />
<ellipse cx="661.2" cy="465.3" rx="1.6" ry="2.0" fill="#fff" stroke="#161616" stroke-width="0.9" />
<path d="M727.3,466.6 L746.3,473.6 L744.7,478.6 L726.3,471.8 C724.6,471.2 724.3,469.6 724.8,468.3 C725.3,467 726.2,466.4 727.3,466.6 Z" fill="#fff" stroke="#161616" stroke-width="1.3" />
<ellipse cx="746.0" cy="476.1" rx="1.9" ry="2.8" transform="rotate(-15 746.0 476.1)" fill="#fff" stroke="#161616" stroke-width="1.5" />
<path d="M711.6,479.7 L730.8,487 L729.4,491.3 L711,484.4 C709.4,483.8 709.1,482.2 709.6,481 C710.1,480 710.8,479.5 711.6,479.7 Z" fill="#fff" stroke="#161616" stroke-width="1.3" />
<ellipse cx="730.4" cy="489.2" rx="1.9" ry="2.6" transform="rotate(-15 730.4 489.2)" fill="#fff" stroke="#161616" stroke-width="1.5" />
<path d="M750.20,477.20 L764.30,483.00" stroke="#141414" stroke-width="3.4" stroke-linecap="round" fill="none"/>
<path d="M764.30,483.00 L769.48,484.68" stroke="#141414" stroke-width="3.4" fill="none"/>
<path d="M765.05,483.29 L769.48,484.68" stroke="#ececec" stroke-width="1.1" fill="none" stroke-dasharray="2 1"/>
<path d="M768.87,486.27 L772.21,489.28 L774.59,483.12 L770.10,483.10 Z" fill="#f0f0f0" stroke="#141414" stroke-width="1.7" stroke-linejoin="round"/>
<ellipse cx="773.40" cy="486.20" rx="1.3" ry="3.3" transform="rotate(21.2 773.40 486.20)" fill="#141414" stroke="#141414" stroke-width="1.0"/>
<path d="M751.74,478.76 L752.86,477.27 M753.51,479.45 L754.63,477.95 M755.28,480.14 L756.40,478.64 M757.05,480.82 L758.17,479.33 M758.82,481.51 L759.94,480.01 M760.60,482.20 L761.71,480.70" stroke="#777" stroke-width="0.45" fill="none"/>
<path d="M741.40,492.40 L756.40,498.40" stroke="#141414" stroke-width="3.4" stroke-linecap="round" fill="none"/>
<path d="M756.40,498.40 L760.70,500.05" stroke="#141414" stroke-width="3.4" fill="none"/>
<path d="M757.14,498.69 L760.70,500.05" stroke="#ececec" stroke-width="1.1" fill="none" stroke-dasharray="2 1"/>
<path d="M760.07,501.63 L763.38,504.67 L765.82,498.53 L761.32,498.47 Z" fill="#f0f0f0" stroke="#141414" stroke-width="1.7" stroke-linejoin="round"/>
<ellipse cx="764.60" cy="501.60" rx="1.3" ry="3.3" transform="rotate(21.6 764.60 501.60)" fill="#141414" stroke="#141414" stroke-width="1.0"/>
<path d="M742.93,493.97 L744.06,492.48 M744.69,494.67 L745.82,493.19 M746.46,495.37 L747.59,493.89 M748.23,496.08 L749.35,494.59 M749.99,496.78 L751.12,495.29 M751.76,497.48 L752.89,495.99" stroke="#777" stroke-width="0.45" fill="none"/>
<path d="M676.40,486.30 L683.00,489.20" stroke="#141414" stroke-width="3.4" stroke-linecap="round" fill="none"/>
<path d="M683.00,489.20 L685.41,490.59" stroke="#141414" stroke-width="3.4" fill="none"/>
<path d="M683.72,489.54 L685.41,490.59" stroke="#ececec" stroke-width="1.1" fill="none" stroke-dasharray="2 1"/>
<path d="M684.68,492.13 L687.78,495.38 L690.62,489.42 L686.14,489.06 Z" fill="#f0f0f0" stroke="#141414" stroke-width="1.7" stroke-linejoin="round"/>
<ellipse cx="689.20" cy="492.40" rx="1.3" ry="3.3" transform="rotate(25.5 689.20 492.40)" fill="#141414" stroke="#141414" stroke-width="1.0"/>
<path d="M677.82,487.97 L679.04,486.56 M679.53,488.79 L680.76,487.38 M681.25,489.61 L682.47,488.20 M682.96,490.43 L684.19,489.02 M684.68,491.24 L685.90,489.83 M686.39,492.06 L687.62,490.65" stroke="#777" stroke-width="0.45" fill="none"/>
<path d="M650.4,429.1 L667.4,432.9 M646,432.8 L654.4,443.4 M643.1,434.2 L651.1,457.6 M681.7,414.2 L678.2,432.1 M724,415.6 L722.4,434.2 M741.4,422 L735.6,438.6 M697.6,482.2 L695.2,501.8 M667.2,482.7 L680.8,474.6 M667.2,482.7 L674.2,486" fill="none" stroke="#333" stroke-width="0.8" />
<polygon points="179.40,80.40 181.05,80.40 181.05,89.80 179.40,89.80 179.40,82.55 177.30,83.30 177.30,81.90 178.55,81.45 179.20,80.75" fill="#242424"/>
<text x="183.51" y="89.80">3</text>
<polygon points="201.10,87.40 202.75,87.40 202.75,96.80 201.10,96.80 201.10,89.55 199.00,90.30 199.00,88.90 200.25,88.45 200.90,87.75" fill="#242424"/>
<text x="205.21" y="96.80">2</text>
<polygon points="257.00,76.70 258.65,76.70 258.65,86.10 257.00,86.10 257.00,78.85 254.90,79.60 254.90,78.20 256.15,77.75 256.80,77.05" fill="#242424"/>
<text x="261.11" y="86.10">2</text>
<polygon points="282.90,112.30 284.55,112.30 284.55,121.70 282.90,121.70 282.90,114.45 280.80,115.20 280.80,113.80 282.05,113.35 282.70,112.65" fill="#242424"/>
<polygon points="289.56,112.30 291.21,112.30 291.21,121.70 289.56,121.70 289.56,114.45 287.46,115.20 287.46,113.80 288.71,113.35 289.36,112.65" fill="#242424"/>
<polygon points="220.90,129.40 222.55,129.40 222.55,138.80 220.90,138.80 220.90,131.55 218.80,132.30 218.80,130.90 220.05,130.45 220.70,129.75" fill="#242424"/>
<text x="225.01" y="138.80">0</text>
<polygon points="210.75,171.80 212.40,171.80 212.40,181.20 210.75,181.20 210.75,173.95 208.65,174.70 208.65,173.30 209.90,172.85 210.55,172.15" fill="#242424"/>
<text x="214.86" y="181.20">3</text>
<polygon points="238.25,182.60 239.90,182.60 239.90,192.00 238.25,192.00 238.25,184.75 236.15,185.50 236.15,184.10 237.40,183.65 238.05,182.95" fill="#242424"/>
<text x="242.36" y="192.00">2</text>
<polygon points="285.00,197.50 286.65,197.50 286.65,206.90 285.00,206.90 285.00,199.65 282.90,200.40 282.90,199.00 284.15,198.55 284.80,197.85" fill="#242424"/>
<text x="289.11" y="206.90">2</text>
<text x="311.82" y="216.25">2</text>
<polygon points="322.83,206.85 324.48,206.85 324.48,216.25 322.83,216.25 322.83,209.00 320.73,209.75 320.73,208.35 321.98,207.90 322.63,207.20" fill="#242424"/>
<text x="111.32" y="257.00">2</text>
<text x="169.98" y="284.80">3</text>
<text x="192.49" y="293.20">4</text>
<text x="222.56" y="306.10">5</text>
<polygon points="392.75,168.60 394.40,168.60 394.40,178.00 392.75,178.00 392.75,170.75 390.65,171.50 390.65,170.10 391.90,169.65 392.55,168.95" fill="#242424"/>
<text x="396.86" y="178.00">5</text>
<polygon points="544.00,189.60 545.65,189.60 545.65,199.00 544.00,199.00 544.00,191.75 541.90,192.50 541.90,191.10 543.15,190.65 543.80,189.95" fill="#242424"/>
<text x="548.11" y="199.00">9</text>
<text x="487.41" y="240.40">8</text>
<text x="450.08" y="268.75">3</text>
<text x="457.65" y="268.75">2</text>
<polygon points="627.30,247.90 628.95,247.90 628.95,257.30 627.30,257.30 627.30,250.05 625.20,250.80 625.20,249.40 626.45,248.95 627.10,248.25" fill="#242424"/>
<text x="631.41" y="257.30">6</text>
<polygon points="673.60,247.20 675.25,247.20 675.25,256.60 673.60,256.60 673.60,249.35 671.50,250.10 671.50,248.70 672.75,248.25 673.40,247.55" fill="#242424"/>
<text x="677.71" y="256.60">8</text>
<polygon points="695.30,252.80 696.95,252.80 696.95,262.20 695.30,262.20 695.30,254.95 693.20,255.70 693.20,254.30 694.45,253.85 695.10,253.15" fill="#242424"/>
<text x="699.41" y="262.20">7</text>
<polygon points="618.60,285.10 620.25,285.10 620.25,294.50 618.60,294.50 618.60,287.25 616.50,288.00 616.50,286.60 617.75,286.15 618.40,285.45" fill="#242424"/>
<text x="622.71" y="294.50">8</text>
<text x="637.20" y="301.50">7</text>
<polygon points="372.60,305.00 374.25,305.00 374.25,314.40 372.60,314.40 372.60,307.15 370.50,307.90 370.50,306.50 371.75,306.05 372.40,305.35" fill="#242424"/>
<text x="521.12" y="367.00">2</text>
<text x="528.68" y="367.00">2</text>
<text x="293.71" y="359.60">6</text>
<text x="325.51" y="374.60">6</text>
<text x="223.62" y="394.20">2</text>
<text x="231.18" y="394.20">0</text>
<text x="241.48" y="402.60">3</text>
<polygon points="252.50,393.20 254.15,393.20 254.15,402.60 252.50,402.60 252.50,395.35 250.40,396.10 250.40,394.70 251.65,394.25 252.30,393.55" fill="#242424"/>
<text x="269.86" y="461.00">9</text>
<text x="418.16" y="403.40">5</text>
<text x="450.69" y="415.20">4</text>
<text x="471.78" y="426.20">3</text>
<text x="509.01" y="443.90" style="font-size:12.8px">3</text>
<text x="516.13" y="443.90" style="font-size:12.8px">3</text>
<text x="673.88" y="413.10">3</text>
<polygon points="684.90,403.70 686.55,403.70 686.55,413.10 684.90,413.10 684.90,405.85 682.80,406.60 682.80,405.20 684.05,404.75 684.70,404.05" fill="#242424"/>
<text x="714.92" y="415.30">2</text>
<text x="722.48" y="415.30">4</text>
<text x="739.52" y="421.70">2</text>
<text x="747.08" y="421.70">5</text>
<polygon points="640.00,420.40 641.65,420.40 641.65,429.80 640.00,429.80 640.00,422.55 637.90,423.30 637.90,421.90 639.15,421.45 639.80,420.75" fill="#242424"/>
<text x="644.11" y="429.80">4</text>
<text x="687.52" y="436.40">2</text>
<text x="695.08" y="436.40">6</text>
<text x="735.62" y="466.60">2</text>
<text x="743.18" y="466.60">8</text>
<text x="762.42" y="478.10">2</text>
<text x="769.98" y="478.10">7</text>
<text x="646.98" y="479.30">3</text>
<text x="654.55" y="479.30">0</text>
<text x="664.62" y="500.90">2</text>
<text x="672.18" y="500.90">9</text>
<text x="709.82" y="499.20">2</text>
<text x="717.38" y="499.20">8</text>
<text x="687.12" y="511.60">2</text>
<text x="694.68" y="511.60">3</text>
<text x="742.42" y="510.20">2</text>
<text x="749.98" y="510.20">7</text>
</svg>
</body></html>
